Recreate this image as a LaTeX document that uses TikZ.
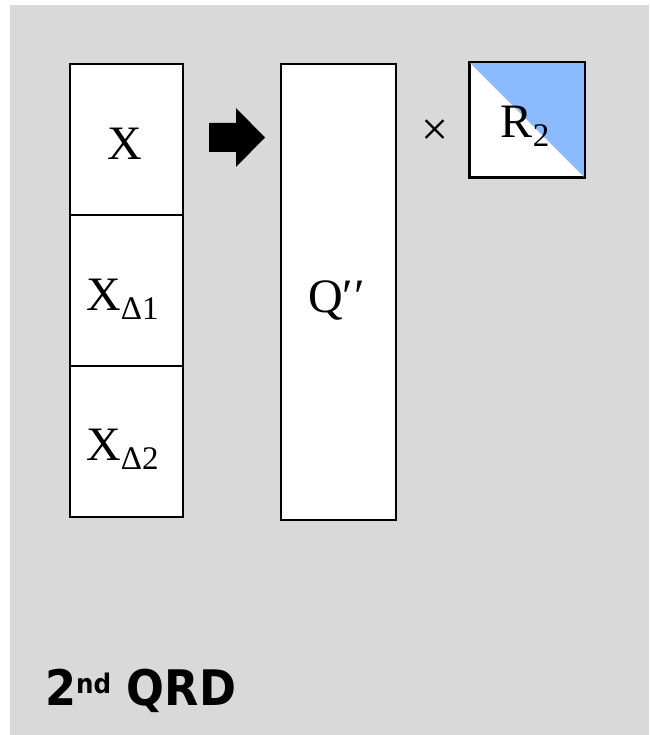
\documentclass[tikz,border=0pt]{standalone}
\usepackage{fontspec}
\newfontfamily\lblfont[FakeStretch=0.91]{DejaVu Sans}
\newfontfamily\labfont{Liberation Serif}
\definecolor{bggray}{RGB}{217,217,217}
\definecolor{rblue}{RGB}{138,186,255}
\newcommand{\mysub}[1]{\raisebox{-9pt}{\fontsize{33}{33}\selectfont #1}}
\begin{document}
\begin{tikzpicture}[x=1pt,y=-1pt,
  cell/.style={draw=black,line width=2.2pt,fill=white,rectangle,inner sep=0pt,minimum width=113pt,minimum height=151pt},
  mat/.style={draw=black,line width=2.2pt,fill=white,rectangle,inner sep=0pt},
  lbl/.style={inner sep=0pt,anchor=base,font=\labfont\fontsize{48}{50}\selectfont}]
\useasboundingbox (0,0) rectangle (649,735);
\fill[white] (0,0) rectangle (649,735);
\fill[bggray] (10,5) rectangle (649,735);
% X column
\node[cell] (c1) at (126.5,139.5) {};
\node[cell] (c2) at (126.5,290.5) {};
\node[cell] (c3) at (126.5,441.5) {};
\node[lbl] (t1) at (125,160) {X};
\node[lbl] (t2) at (122.5,310) {X\mysub{Δ1}};
\node[lbl] (t3) at (122.5,460) {X\mysub{Δ2}};
% block arrow
\coordinate (ar) at (209,137.5);
\fill[black] (ar) ++(0,-14.5) -- ++(27,0) -- ++(0,-15) -- ++(29,29.5) -- ++(-29,29.5) -- ++(0,-15) -- ++(-27,0) -- cycle;
% Q''
\node[mat,minimum width=115pt,minimum height=456pt] (q) at (338.5,292) {};
\node[lbl] (qt) at (336.5,312) {Q′\kern1pt′};
% times
\node[lbl] (tm) at (435,146) {×};
% R2
\node[mat,minimum width=114pt,minimum height=114pt] (r) at (527,120) {};
\fill[rblue] (r.north west) -- (r.north east) -- (r.south east) -- cycle;
\draw[line width=2.2pt] (r.north west) rectangle (r.south east);
\node[lbl] (rt) at (525,138) {R\mysub{2}};
% title
\node[inner sep=0pt,anchor=base west,font=\lblfont\bfseries\fontsize{49}{52}\selectfont] (title) at (45,705) {2\raisebox{12pt}{\fontsize{27}{27}\selectfont nd} QRD};
\end{tikzpicture}
\end{document}
